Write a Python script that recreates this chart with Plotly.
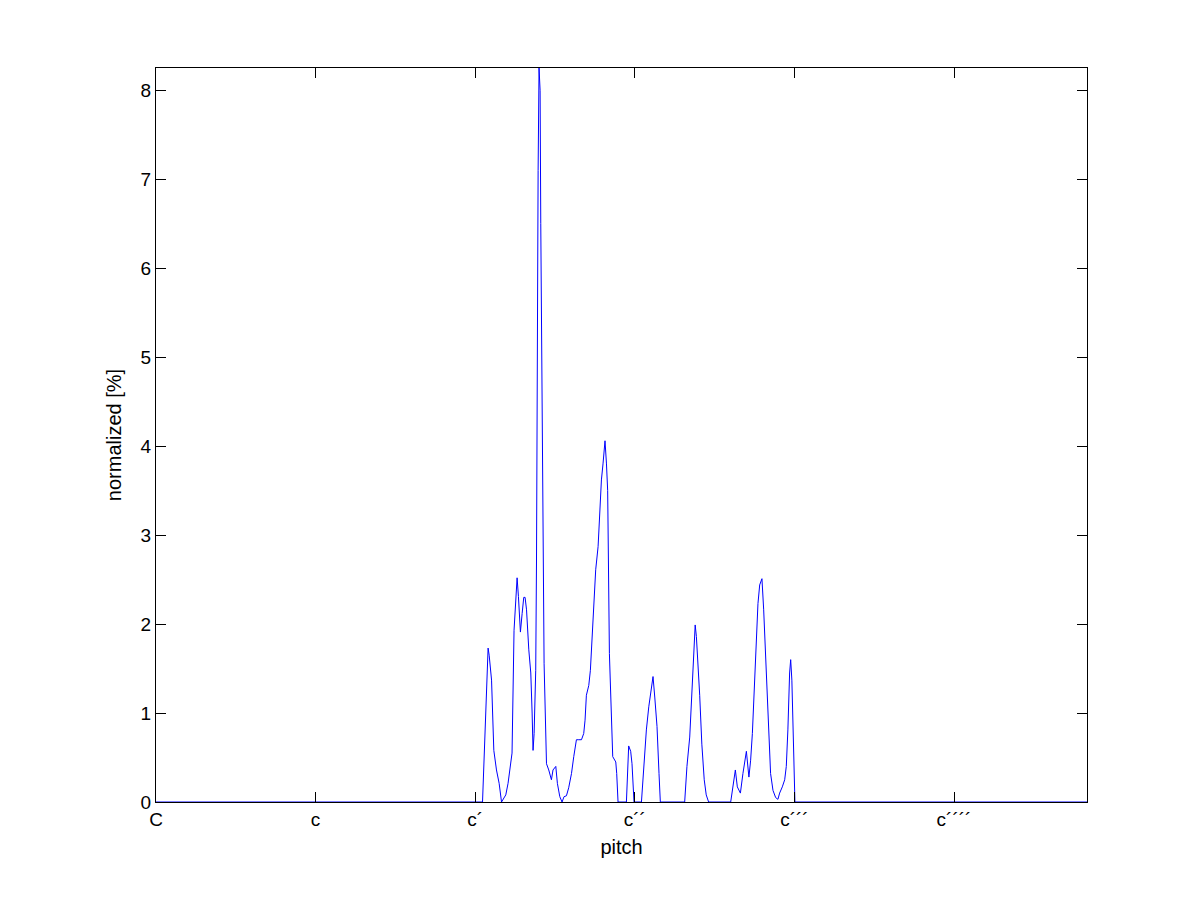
import plotly.graph_objects as go

# pitch in semitones above C (0 = C), normalized share in percent
pitch = [0.0, 24.55, 24.97, 25.05, 25.23, 25.40, 25.60, 25.80, 25.98, 26.10, 26.30,
         26.47, 26.65, 26.77, 26.92, 27.03, 27.15, 27.25, 27.40, 27.53, 27.65,
         27.75, 27.86, 28.03, 28.18, 28.28, 28.35, 28.43, 28.55, 28.61, 28.65,
         28.73, 28.80, 28.88, 28.93, 29.03, 29.08, 29.18, 29.36, 29.53, 29.73,
         29.85, 30.06, 30.18, 30.36, 30.53, 30.68, 30.86, 31.03, 31.24, 31.41,
         31.61, 31.79, 31.99, 32.16, 32.26, 32.36, 32.54, 32.66, 32.79, 32.91,
         33.06, 33.24, 33.36, 33.49, 33.61, 33.76, 33.87, 33.96, 34.09, 34.21,
         34.34, 34.57, 34.64, 34.74, 35.37, 35.54, 35.69, 35.79, 35.94, 36.50,
         36.67, 36.87, 37.05, 37.25, 37.37, 37.50, 37.67, 37.82, 37.92, 39.75,
         39.92, 40.13, 40.30, 40.45, 40.54, 40.63, 40.75, 40.88, 41.04, 41.22,
         41.37, 41.55, 43.21, 43.38, 43.56, 43.71, 43.94, 44.13, 44.26, 44.39,
         44.58, 44.71, 44.84, 44.96, 45.14, 45.26, 45.39, 45.56, 45.69, 45.81,
         45.94, 46.06, 46.21, 46.39, 46.59, 46.76, 46.89, 47.09, 47.27, 47.39,
         47.51, 47.64, 47.72, 47.81, 47.89, 47.96, 48.04, 70.0]

normalized = [0.0, 0.0, 1.73, 1.65, 1.37, 0.58, 0.36, 0.21, 0.0, 0.03, 0.08,
              0.21, 0.40, 0.55, 1.93, 2.29, 2.52, 2.31, 1.91, 2.12, 2.30,
              2.30, 2.16, 1.71, 1.45, 1.00, 0.58, 0.77, 1.48, 2.72, 4.97,
              7.10, 8.25, 8.00, 6.50, 4.60, 2.76, 1.56, 0.43, 0.36, 0.25,
              0.36, 0.40, 0.21, 0.06, 0.0, 0.06, 0.07, 0.16, 0.32, 0.51,
              0.70, 0.70, 0.70, 0.77, 0.92, 1.20, 1.31, 1.48, 1.82, 2.27,
              2.61, 2.87, 3.32, 3.62, 3.80, 4.06, 3.80, 3.50, 1.67, 1.00,
              0.51, 0.45, 0.32, 0.0, 0.0, 0.63, 0.57, 0.43, 0.0, 0.0,
              0.36, 0.81, 1.07, 1.30, 1.41, 1.18, 0.85, 0.32, 0.0, 0.0,
              0.40, 0.73, 1.22, 1.67, 1.99, 1.86, 1.60, 1.20, 0.65, 0.25,
              0.08, 0.0, 0.0, 0.17, 0.36, 0.17, 0.10, 0.32, 0.43, 0.57,
              0.28, 0.47, 0.77, 1.18, 1.63, 2.23, 2.44, 2.51, 2.16, 1.71,
              1.22, 0.73, 0.32, 0.13, 0.05, 0.03, 0.10, 0.17, 0.25, 0.40,
              0.81, 1.45, 1.60, 1.37, 0.85, 0.28, 0.0, 0.0]

tick_vals = [0, 12, 24, 36, 48, 60]
tick_text = ["C", "c", "c\u00b4", "c\u00b4\u00b4", "c\u00b4\u00b4\u00b4", "c\u00b4\u00b4\u00b4\u00b4"]
y_ticks = [0, 1, 2, 3, 4, 5, 6, 7, 8]

fig = go.Figure()
fig.add_trace(go.Scatter(x=pitch, y=normalized, mode="lines",
                         line=dict(color="#0000ff", width=1), hoverinfo="skip",
                         showlegend=False))

font = dict(family="Liberation Sans, Arial, sans-serif", size=19, color="black")
title_font = dict(family="Liberation Sans, Arial, sans-serif", size=20, color="black")

fig.update_layout(
    width=1185, height=885,
    margin=dict(l=148, r=106, t=60, b=91),
    paper_bgcolor="white", plot_bgcolor="white",
    font=font,
    xaxis=dict(range=[0, 70], tickvals=tick_vals, ticktext=tick_text,
               ticks="inside", ticklen=10, tickcolor="black", tickwidth=1,
               showline=True, linecolor="black", linewidth=1, mirror="ticks",
               showgrid=False, zeroline=False,
               title=dict(text="pitch", standoff=11, font=title_font),
               tickfont=font),
    yaxis=dict(range=[0, 8.25], tickvals=y_ticks,
               ticks="inside", ticklen=10, tickcolor="black", tickwidth=1,
               showline=True, linecolor="black", linewidth=1, mirror="ticks",
               showgrid=False, zeroline=False,
               title=dict(text="normalized [%]", standoff=13, font=title_font),
               tickfont=font),
)

fig.write_html("out.html")
